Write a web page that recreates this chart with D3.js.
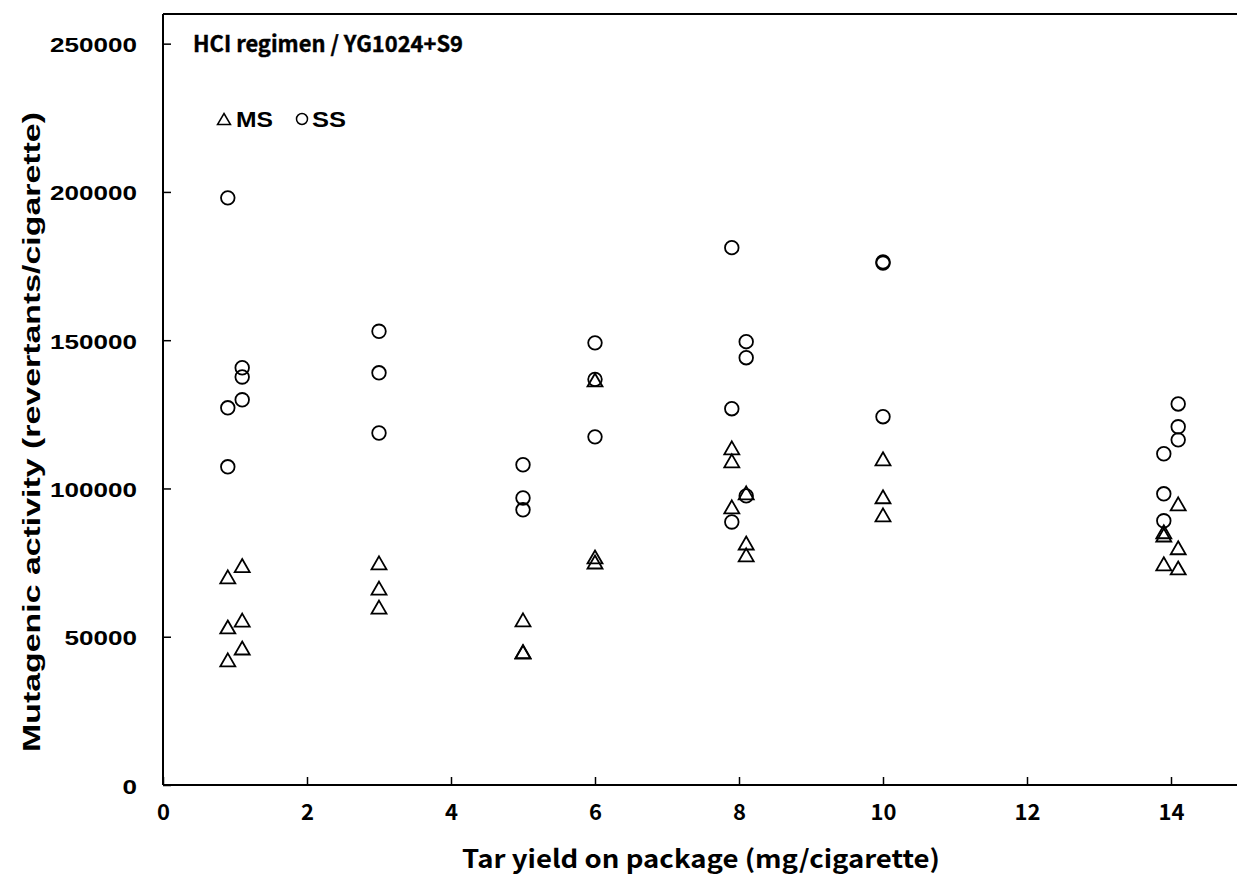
<!DOCTYPE html>
<html>
<head>
<meta charset="utf-8">
<script src="https://cdn.jsdelivr.net/npm/d3@7"></script>
<style>
  body { margin: 0; background: #fff; }
  svg { display: block; }
  .gothic { font-family: "Noto Sans CJK JP", "DejaVu Sans", sans-serif; font-weight: bold; }
  .arial { font-family: "Liberation Sans", Arial, sans-serif; font-weight: bold; }
</style>
</head>
<body>
<div class="chart"></div>
<script>
// tar yield (mg/cigarette) and mutagenic activity (revertants/cigarette)
const msX = [0.9, 0.9, 0.9, 1.1, 1.1, 1.1, 3, 3, 3, 5, 5, 5, 6, 6, 6,
             7.9, 7.9, 7.9, 8.1, 8.1, 8.1, 10, 10, 10, 13.9, 13.9, 13.9, 14.1, 14.1, 14.1];
const msY = [70200, 53300, 42200, 74000, 55600, 46200, 74900, 66400, 60000,
             55700, 45000, 44800, 136600, 76900, 75200, 113700, 109300, 93800,
             98500, 81600, 77600, 110000, 97200, 91100, 85400, 84300, 74600,
             94800, 80000, 73200];
const ssX = [0.9, 0.9, 0.9, 1.1, 1.1, 1.1, 3, 3, 3, 5, 5, 5, 6, 6, 6,
             7.9, 7.9, 7.9, 8.1, 8.1, 8.1, 10, 10, 10, 13.9, 13.9, 13.9, 14.1, 14.1, 14.1];
const ssY = [198000, 127200, 107300, 140700, 137600, 129900, 153000, 139000, 118700,
             108000, 96800, 92800, 149100, 136800, 117400, 181200, 126900, 88700,
             149500, 144100, 97500, 176400, 176000, 124200, 111700, 98200, 89100,
             128500, 120800, 116400];
const xTicks = [0, 2, 4, 6, 8, 10, 12, 14];
const yTicks = [0, 50000, 100000, 150000, 200000, 250000];

const W = 1237, H = 874;
const margin = {top: 14, left: 163};
const plotRight = 1243, plotBottom = 785;

const svg = d3.select('.chart').append('svg')
    .attr('width', W)
    .attr('height', H);

const x = d3.scaleLinear().domain([0, 15]).range([margin.left, plotRight]);
const y = d3.scaleLinear().domain([0, 260000]).range([plotBottom, margin.top]);

// frame: top border and right border (mostly off screen)
svg.append('path')
    .attr('d', `M${margin.left},${margin.top}H${plotRight}V${plotBottom}`)
    .attr('fill', 'none').attr('stroke', '#000').attr('stroke-width', 2);

// x axis, ticks pointing inward
const xAxis = svg.append('g')
    .attr('transform', `translate(0,${plotBottom})`)
    .call(d3.axisTop(x).tickValues(xTicks).tickSize(8).tickFormat(''));
xAxis.select('.domain').attr('stroke-width', 2).attr('d', `M${margin.left},0H${plotRight}`);
xAxis.selectAll('.tick line').attr('stroke-width', 1.5);
xAxis.selectAll('.tick').append('text')
    .attr('class', 'gothic')
    .attr('y', 35)
    .attr('fill', '#000')
    .attr('text-anchor', 'middle')
    .style('font-size', '22px')
    .text(d => d);

// y axis, ticks pointing inward
const yAxis = svg.append('g')
    .attr('transform', `translate(${margin.left},0)`)
    .call(d3.axisRight(y).tickValues(yTicks).tickSize(8).tickFormat(''));
yAxis.select('.domain').attr('stroke-width', 2).attr('d', `M0,${plotBottom}V${margin.top}`);
yAxis.selectAll('.tick line').attr('stroke-width', 1.5);
yAxis.selectAll('.tick').append('text')
    .attr('class', 'arial')
    .attr('x', -26)
    .attr('y', 8)
    .attr('fill', '#000')
    .attr('text-anchor', 'end')
    .style('font-size', '21px')
    .attr('textLength', d => String(d).length * 14.5)
    .attr('lengthAdjust', 'spacingAndGlyphs')
    .text(d => d);

// axis titles
svg.append('text')
    .attr('class', 'gothic')
    .attr('x', 701).attr('y', 868)
    .attr('text-anchor', 'middle')
    .attr('textLength', 478)
    .attr('lengthAdjust', 'spacingAndGlyphs')
    .style('font-size', '25px')
    .text('Tar yield on package (mg/cigarette)');

svg.append('text')
    .attr('class', 'arial')
    .attr('transform', 'translate(40,432) rotate(-90)')
    .attr('text-anchor', 'middle')
    .attr('textLength', 640)
    .attr('lengthAdjust', 'spacingAndGlyphs')
    .style('font-size', '23px')
    .text('Mutagenic activity (revertants/cigarette)');

// markers
const tri = 'M0,-6.5L7.5,6.5L-7.5,6.5Z';
svg.append('g').selectAll('path')
    .data(msX.map((d, i) => [d, msY[i]]))
    .join('path')
    .attr('d', tri)
    .attr('transform', d => `translate(${x(d[0])},${y(d[1])})`)
    .attr('fill', 'none').attr('stroke', '#000').attr('stroke-width', 1.8);

svg.append('g').selectAll('circle')
    .data(ssX.map((d, i) => [d, ssY[i]]))
    .join('circle')
    .attr('cx', d => x(d[0]))
    .attr('cy', d => y(d[1]))
    .attr('r', 6.8)
    .attr('fill', 'none').attr('stroke', '#000').attr('stroke-width', 1.8);

// legend
svg.append('text')
    .attr('class', 'gothic')
    .attr('x', 193).attr('y', 52)
    .attr('textLength', 270)
    .attr('lengthAdjust', 'spacingAndGlyphs')
    .style('font-size', '22px')
    .style('stroke', '#000').style('stroke-width', 0.4)
    .text('HCI regimen / YG1024+S9');

svg.append('path')
    .attr('d', 'M0,-5.5L6.5,5.5L-6.5,5.5Z')
    .attr('transform', 'translate(224,119)')
    .attr('fill', 'none').attr('stroke', '#000').attr('stroke-width', 1.5);
svg.append('text')
    .attr('class', 'arial')
    .attr('x', 236).attr('y', 127)
    .attr('textLength', 37)
    .attr('lengthAdjust', 'spacingAndGlyphs')
    .style('font-size', '22px')
    .text('MS');
svg.append('circle')
    .attr('cx', 302).attr('cy', 119).attr('r', 5.5)
    .attr('fill', 'none').attr('stroke', '#000').attr('stroke-width', 1.5);
svg.append('text')
    .attr('class', 'arial')
    .attr('x', 312).attr('y', 127)
    .attr('textLength', 34)
    .attr('lengthAdjust', 'spacingAndGlyphs')
    .style('font-size', '22px')
    .text('SS');
</script>
</body>
</html>
